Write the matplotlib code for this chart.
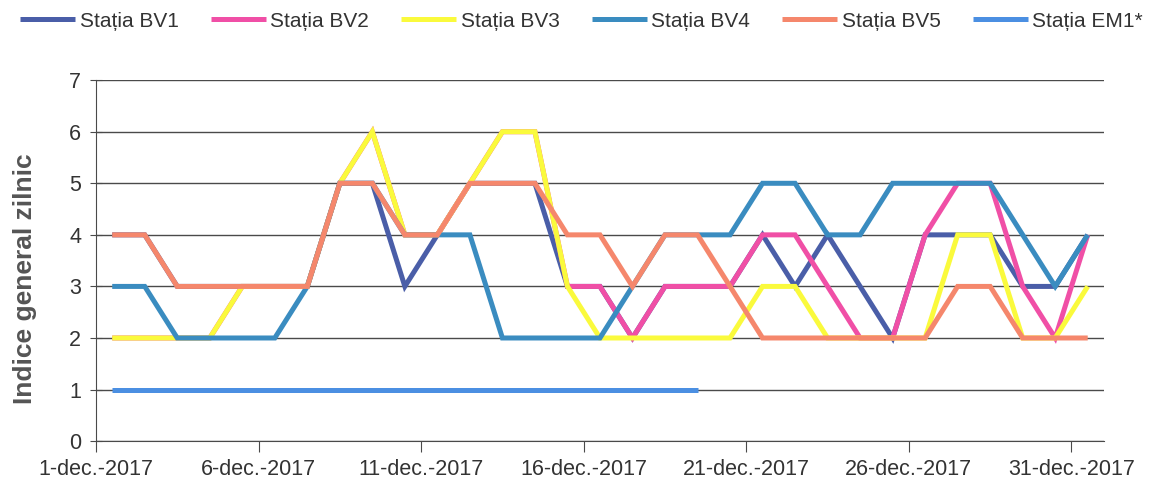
import matplotlib
matplotlib.use("Agg")
import matplotlib.pyplot as plt
import pandas as pd
import numpy as np

plt.rcParams['font.family'] = ['Liberation Sans', 'DejaVu Sans']

# zile decembrie 2017
zile = pd.date_range('2017-12-01', '2017-12-31', freq='D')

bv1 = [4, 4, 3, 3, 3, 3, 3, 5, 5, 3, 4, 5, 5, 5, 3, 3, 2, 3, 3, 3,
       4, 3, 4, 3, 2, 4, 4, 4, 3, 3, 4]
bv2 = [2, 2, 2, 2, 3, 3, 3, 5, 6, 4, 4, 5, 6, 6, 3, 3, 2, 3, 3, 3,
       4, 4, 3, 2, 2, 4, 5, 5, 3, 2, 4]
bv3 = [2, 2, 2, 2, 3, 3, 3, 5, 6, 4, 4, 5, 6, 6, 3, 2, 2, 2, 2, 2,
       3, 3, 2, 2, 2, 2, 4, 4, 2, 2, 3]
bv4 = [3, 3, 2, 2, 2, 2, 3, 5, 5, 4, 4, 4, 2, 2, 2, 2, 3, 4, 4, 4,
       5, 5, 4, 4, 5, 5, 5, 5, 4, 3, 4]
bv5 = [4, 4, 3, 3, 3, 3, 3, 5, 5, 4, 4, 5, 5, 5, 4, 4, 3, 4, 4, 3,
       2, 2, 2, 2, 2, 2, 3, 3, 2, 2, 2]
em1 = [1] * 19  # doar pana pe 19 dec

serii = [
    ('Stația BV1', bv1, '#4a5ea8'),
    ('Stația BV2', bv2, '#f04fa6'),
    ('Stația BV3', bv3, '#fafa3c'),
    ('Stația BV4', bv4, '#3a8cc0'),
    ('Stația BV5', bv5, '#f5876c'),
    ('Stația EM1*', em1, '#4b8fe2'),
]

fig = plt.figure(figsize=(11.56, 4.8), dpi=100)
ax = fig.add_axes([0.083, 0.081, 0.872, 0.752])

for nume, val, cul in serii:
    ax.plot(zile[:len(val)], val, color=cul, lw=3.6, label=nume,
            solid_capstyle='butt', solid_joinstyle='miter')

jum = pd.Timedelta(hours=12)
ax.set_xlim(zile[0] - jum, zile[-1] + jum)
ax.set_ylim(0, 7)
ax.set_yticks(range(0, 8))

tick_zile = zile[::5]
ax.set_xticks(tick_zile - jum)
ax.set_xticklabels([f'{d.day}-dec.-2017' for d in tick_zile])

ax.grid(axis='y', color='#4a4a4a', lw=1.0)
ax.set_axisbelow(True)
for s in ['top', 'right']:
    ax.spines[s].set_visible(False)
ax.spines['left'].set_color('#4a4a4a')
ax.spines['bottom'].set_color('#4a4a4a')
ax.tick_params(axis='y', direction='inout', length=9, color='#4a4a4a',
               labelsize=15.5, labelcolor='#333333', pad=6)
ax.tick_params(axis='x', direction='out', length=8, color='#4a4a4a',
               labelsize=15.5, labelcolor='#333333', pad=5)

ax.set_ylabel('Indice general zilnic', fontsize=19, fontweight='bold',
              color='#555555', labelpad=10)
ax.yaxis.set_label_coords(-0.058, 0.45)

fig.legend(loc='upper center', bbox_to_anchor=(0.503, 1.015), ncol=6,
           frameon=False, fontsize=15, handlelength=2.65, handletextpad=0.2,
           columnspacing=1.55, labelcolor='#333333')

fig.savefig('out.png', dpi=100)
